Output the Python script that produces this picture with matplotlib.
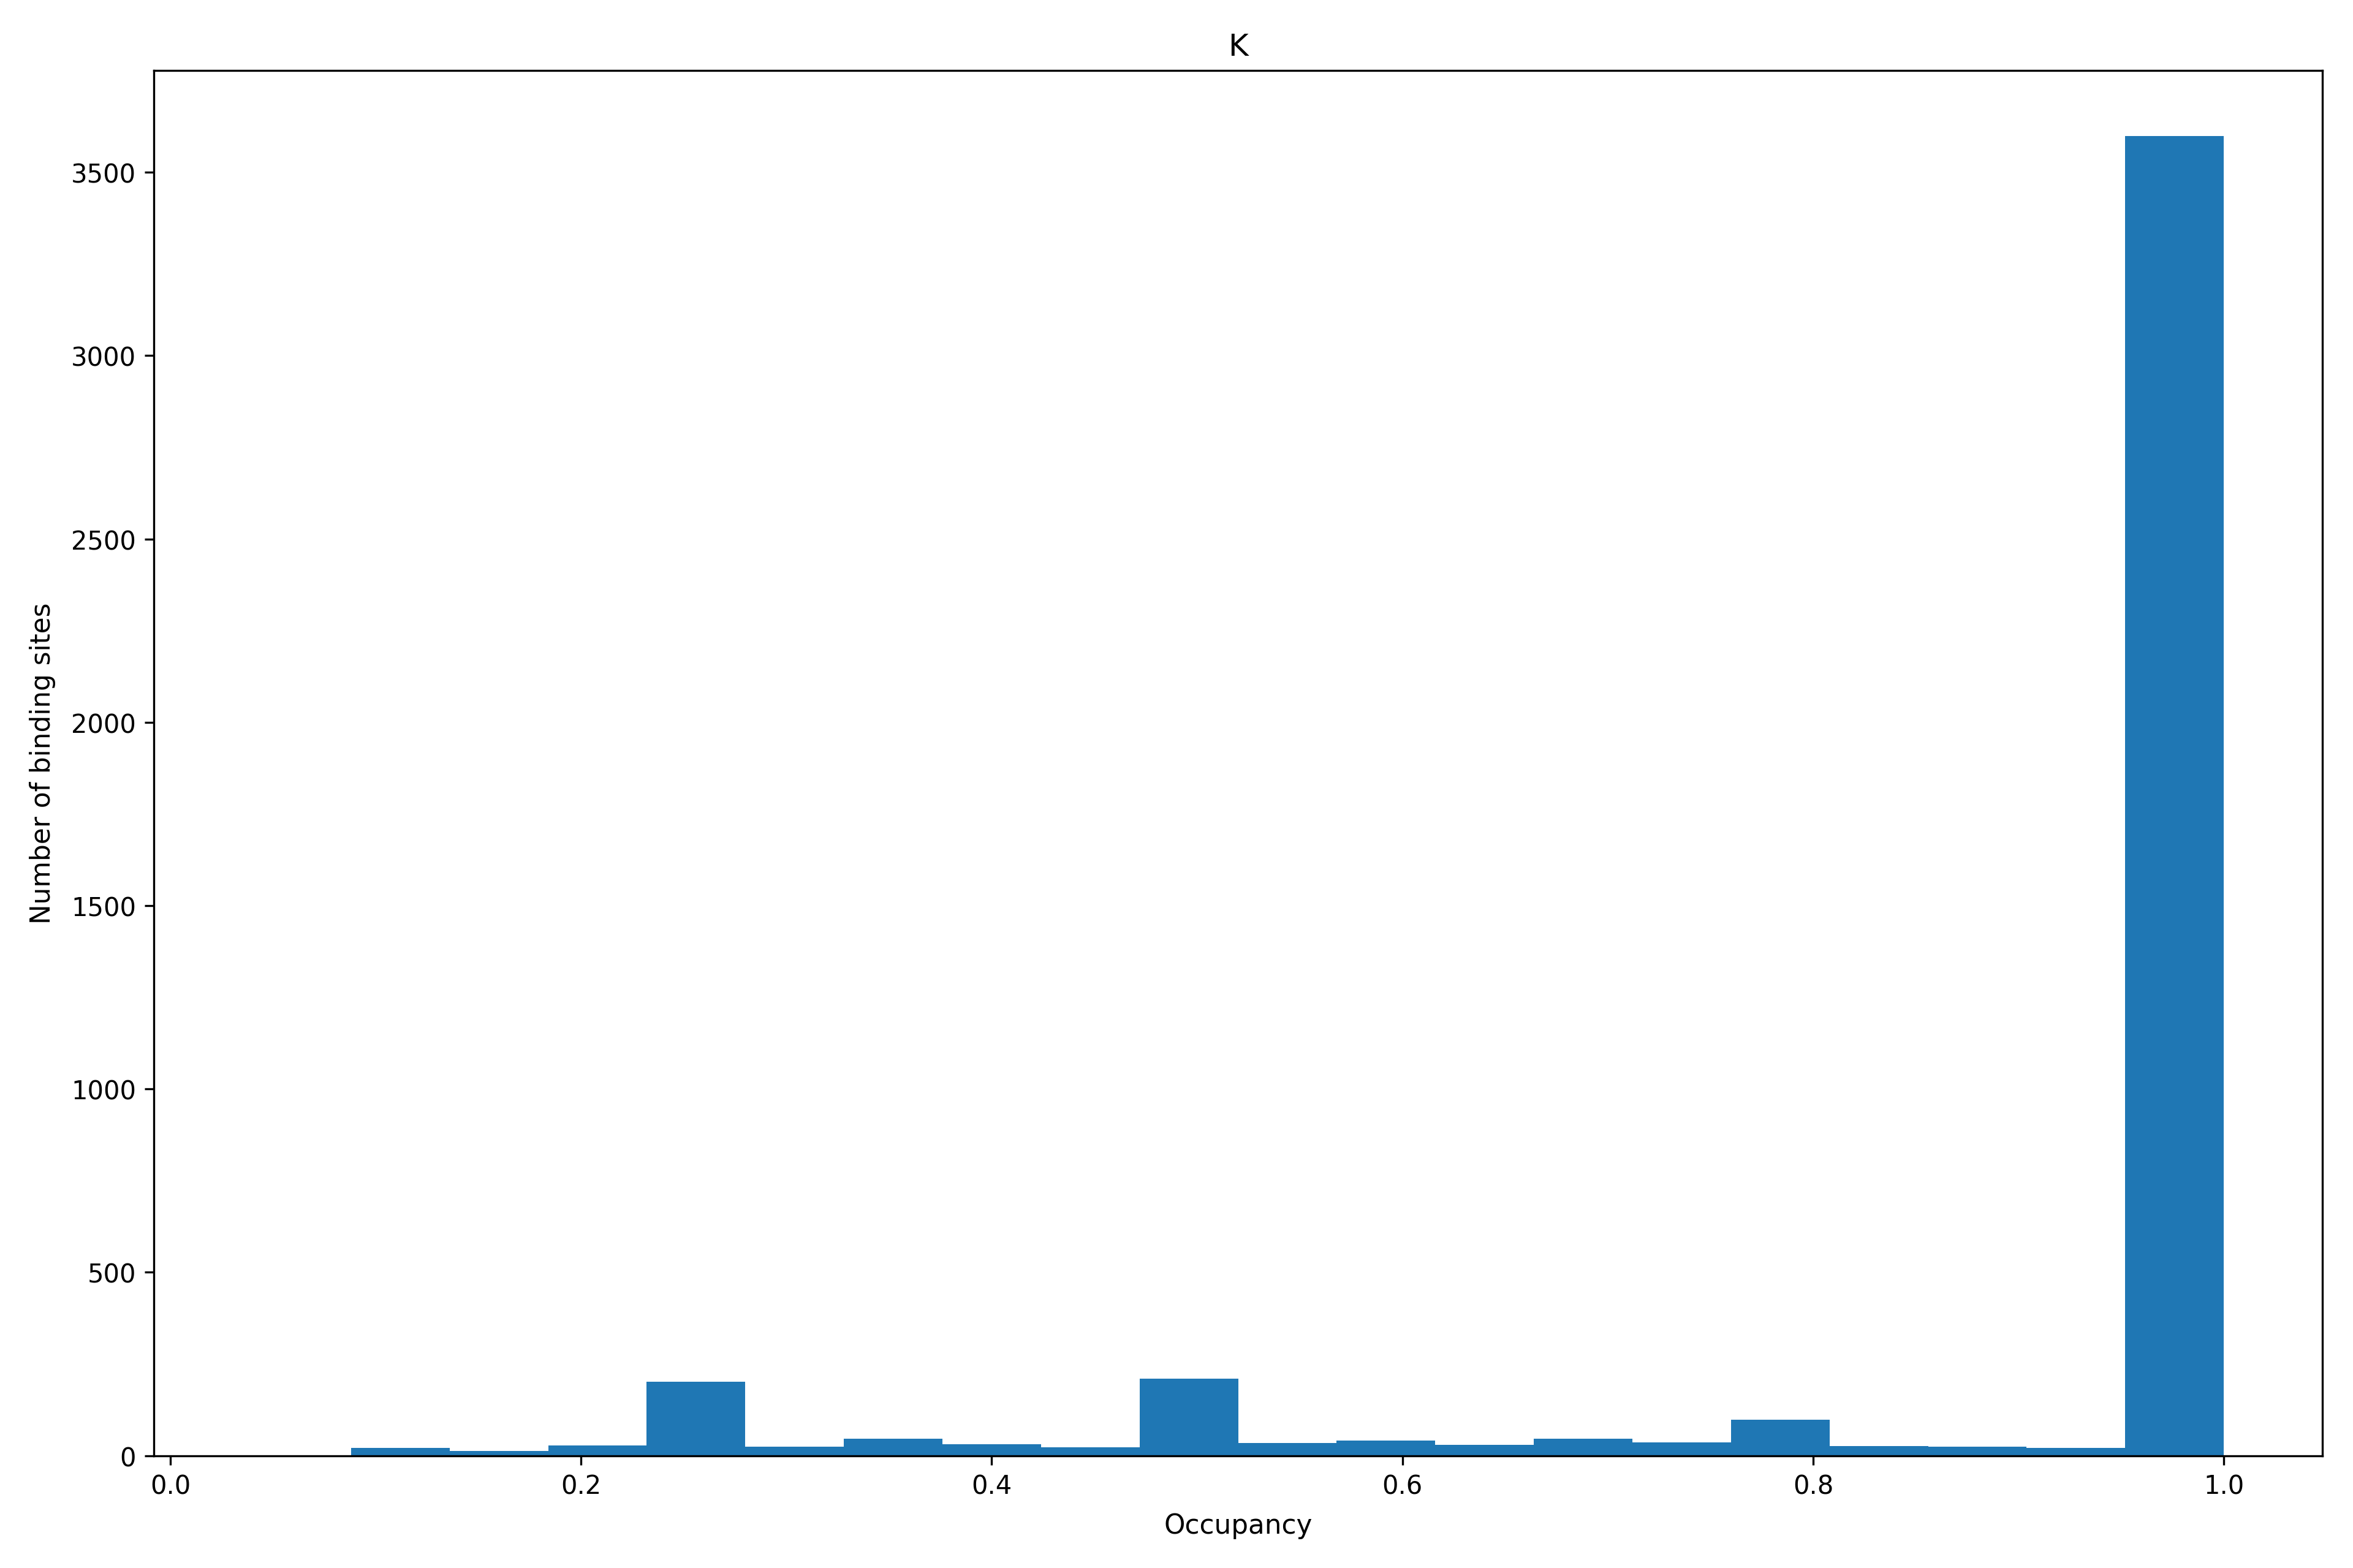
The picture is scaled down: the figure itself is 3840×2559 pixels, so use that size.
import numpy as np
import matplotlib
matplotlib.use("Agg")
import matplotlib.pyplot as plt

# histogram of occupancy, 20 bins between 0.04 and 1.0
bin_lo = 0.04
bin_hi = 1.0
n_bins = 20
counts = [2, 21, 13, 28, 201, 24, 46, 31, 23, 210,
          35, 41, 30, 46, 36, 98, 26, 25, 22, 3598]

edges = np.linspace(bin_lo, bin_hi, n_bins + 1)
centers = 0.5 * (edges[:-1] + edges[1:])

fig, ax = plt.subplots(figsize=(12.8, 8.5333), dpi=300)
fig.subplots_adjust(left=0.0654, right=0.987, top=0.9548, bottom=0.0716)

ax.hist(centers, bins=edges, weights=counts, color="#1f77b4")
ax.set_title("K")
ax.set_xlabel("Occupancy", fontsize=10.5, labelpad=5)
ax.set_ylabel("Number of binding sites", fontsize=10.5, labelpad=6)

fig.savefig("out.png", dpi=300)
